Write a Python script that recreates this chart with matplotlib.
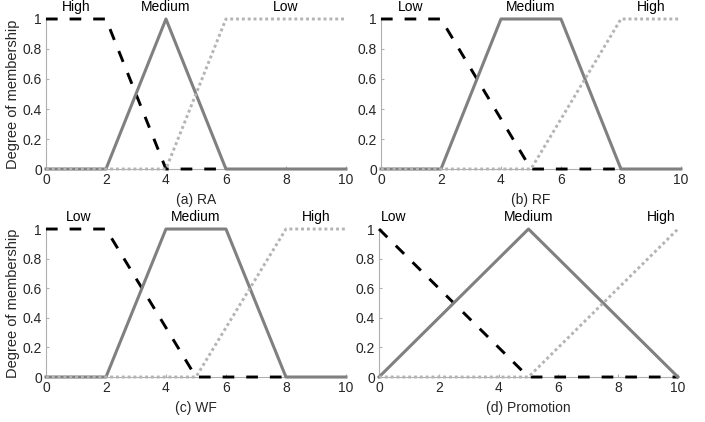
import matplotlib.pyplot as plt
import numpy as np

plt.rcParams['font.family'] = ['Liberation Sans', 'DejaVu Sans']

# membership functions, x breakpoints and y values
# (the dashed curve is cut where the solid curve covers it in the original)
# (a) RA
ra_high_x = [0, 2, 4, 6]
ra_high_y = [1, 1, 0, 0]
ra_med_x = [0, 2, 4, 6, 10]
ra_med_y = [0, 0, 1, 0, 0]
ra_low_x = [0, 4, 6, 10]
ra_low_y = [0, 0, 1, 1]
# (b) RF
rf_low_x = [0, 2, 5, 8]
rf_low_y = [1, 1, 0, 0]
rf_med_x = [0, 2, 4, 6, 8, 10]
rf_med_y = [0, 0, 1, 1, 0, 0]
rf_high_x = [0, 5, 8, 10]
rf_high_y = [0, 0, 1, 1]
# (c) WF
wf_low_x = [0, 2, 5, 8]
wf_low_y = [1, 1, 0, 0]
wf_med_x = [0, 2, 4, 6, 8, 10]
wf_med_y = [0, 0, 1, 1, 0, 0]
wf_high_x = [0, 5, 8, 10]
wf_high_y = [0, 0, 1, 1]
# (d) Promotion
pr_low_x = [0, 5, 10]
pr_low_y = [1, 0, 0]
pr_med_x = [0, 5, 10]
pr_med_y = [0, 1, 0]
pr_high_x = [0, 5, 10]
pr_high_y = [0, 0, 1]

panels = [
    dict(title='(a) RA', pos=[0.0652, 0.5995, 0.4255, 0.3555],
         dash=(ra_high_x, ra_high_y), solid=(ra_med_x, ra_med_y), dot=(ra_low_x, ra_low_y),
         names=['High', 'Medium', 'Low'], name_x=[1, 4, 8], ylab=True),
    dict(title='(b) RF', pos=[0.5404, 0.5995, 0.4255, 0.3555],
         dash=(rf_low_x, rf_low_y), solid=(rf_med_x, rf_med_y), dot=(rf_high_x, rf_high_y),
         names=['Low', 'Medium', 'High'], name_x=[1, 5, 9], ylab=False),
    dict(title='(c) WF', pos=[0.0652, 0.1066, 0.4255, 0.3507],
         dash=(wf_low_x, wf_low_y), solid=(wf_med_x, wf_med_y), dot=(wf_high_x, wf_high_y),
         names=['Low', 'Medium', 'High'], name_x=[1.1, 5, 9], ylab=True),
    dict(title='(d) Promotion', pos=[0.5376, 0.1066, 0.424, 0.3507],
         dash=(pr_low_x, pr_low_y), solid=(pr_med_x, pr_med_y), dot=(pr_high_x, pr_high_y),
         names=['Low', 'Medium', 'High'], name_x=[0.5, 5, 9.45], ylab=False),
]

fig = plt.figure(figsize=(7.05, 4.22), dpi=100)

for p in panels:
    ax = fig.add_axes(p['pos'])
    ax.plot(*p['dash'], color='black', lw=2.1, dashes=(4.0, 4.1), clip_on=False, zorder=3)
    ax.plot(*p['solid'], color='#808080', lw=2.2, clip_on=False, zorder=3)
    ax.plot(*p['dot'], color='#b4b4b4', lw=2.1, dashes=(1.0, 1.0), clip_on=False, zorder=3)
    ax.set_xlim(0, 10)
    ax.set_ylim(0, 1)
    ax.set_xticks(np.arange(0, 11, 2))
    ax.set_yticks([0, 0.2, 0.4, 0.6, 0.8, 1])
    ax.set_yticklabels(['0', '0.2', '0.4', '0.6', '0.8', '1'])
    for s in ['top', 'right']:
        ax.spines[s].set_visible(False)
    for s in ['left', 'bottom']:
        ax.spines[s].set_color('#b0b0b0')
        ax.spines[s].set_linewidth(0.8)
    ax.tick_params(direction='in', length=2, color='#b0b0b0', labelsize=10,
                   labelcolor='#262626', pad=3)
    ax.set_xlabel(p['title'], fontsize=10, color='#262626', labelpad=4)
    if p['ylab']:
        ax.set_ylabel('Degree of membership', fontsize=10.5, color='#262626', labelpad=2)
    for n, xx in zip(p['names'], p['name_x']):
        ax.text(xx, 1.035, n, ha='center', va='bottom', fontsize=10, color='black')

fig.savefig('out.png', dpi=100)
